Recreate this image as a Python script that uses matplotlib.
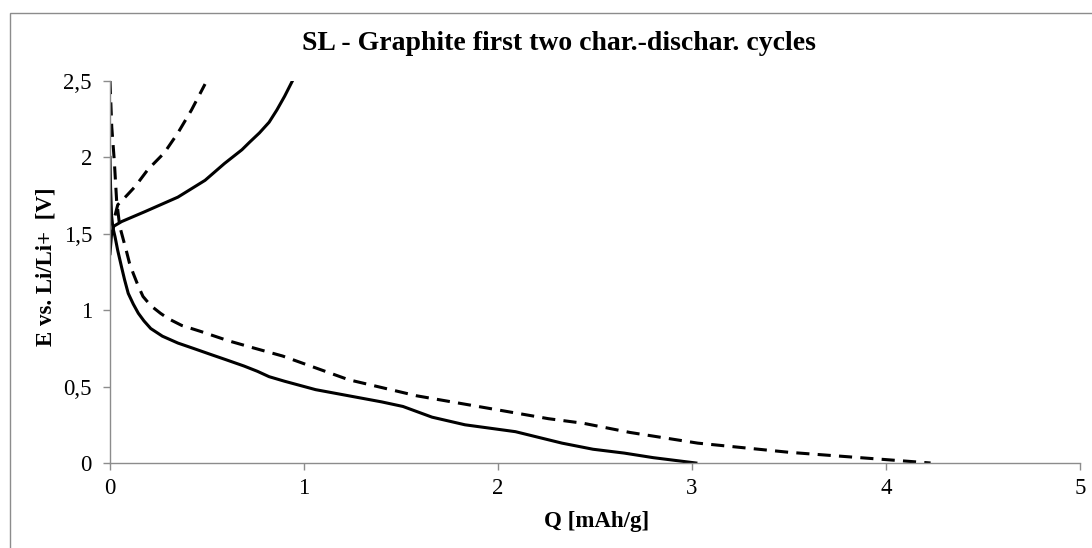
import matplotlib
matplotlib.use('Agg')
import matplotlib.pyplot as plt
from matplotlib.patches import Rectangle
from matplotlib.ticker import FuncFormatter

plt.rcParams['font.family'] = ['Liberation Serif', 'DejaVu Serif']

# cycle 1 (solid)
q_dis1 = [0, 0.003, 0.008, 0.015, 0.026, 0.04, 0.06, 0.075, 0.094, 0.12, 0.146, 0.175, 0.21,
          0.27, 0.35, 0.43, 0.52, 0.60, 0.69, 0.76, 0.82, 0.90, 1.06, 1.40, 1.51, 1.66, 1.83,
          2.09, 2.33, 2.49, 2.65, 2.80, 3.02]
e_dis1 = [2.0, 1.8, 1.62, 1.54, 1.48, 1.39, 1.28, 1.2, 1.11, 1.04, 0.98, 0.93, 0.88,
          0.83, 0.785, 0.75, 0.71, 0.675, 0.635, 0.60, 0.565, 0.535, 0.48, 0.40, 0.37, 0.30,
          0.25, 0.205, 0.13, 0.09, 0.065, 0.035, 0.0]
q_cha1 = [0, 0.008, 0.02, 0.06, 0.18, 0.35, 0.49, 0.59, 0.68, 0.72, 0.77, 0.82, 0.86, 0.90, 0.94]
e_cha1 = [1.37, 1.5, 1.55, 1.58, 1.645, 1.74, 1.85, 1.96, 2.05, 2.1, 2.16, 2.23, 2.31, 2.4, 2.5]

# cycle 2 (dashed)
q_dis2 = [0, 0.009, 0.022, 0.034, 0.05, 0.086, 0.10, 0.12, 0.145, 0.17, 0.21, 0.26, 0.30,
          0.37, 0.47, 0.61, 0.72, 0.89, 1.23, 1.58, 1.92, 2.26, 2.44, 2.68, 3.03, 3.50,
          3.97, 4.23]
e_dis2 = [2.5, 2.2, 1.98, 1.72, 1.55, 1.38, 1.31, 1.24, 1.16, 1.09, 1.03, 0.98, 0.945,
          0.90, 0.86, 0.80, 0.76, 0.70, 0.545, 0.44, 0.365, 0.29, 0.26, 0.20, 0.13, 0.07,
          0.025, 0.0]
q_cha2 = [0.026, 0.04, 0.086, 0.13, 0.195, 0.28, 0.35, 0.42, 0.49]
e_cha2 = [1.62, 1.69, 1.75, 1.81, 1.92, 2.03, 2.16, 2.31, 2.48]

fig = plt.figure(figsize=(10.92, 5.48), dpi=100)
ax = fig.add_axes([110 / 1092, 1 - 463 / 548, 970 / 1092, 382 / 548])

ax.plot(q_dis1, e_dis1, color='black', lw=2.2, solid_joinstyle='round')
ax.plot(q_cha1, e_cha1, color='black', lw=2.2, solid_joinstyle='round')
ax.plot(q_dis2, e_dis2, color='black', lw=2.2, dashes=(4.3, 2.7))
ax.plot(q_cha2, e_cha2, color='black', lw=2.2, dashes=(4.3, 2.7))

ax.set_xlim(0, 5)
ax.set_ylim(0, 2.5)
ax.set_xticks([0, 1, 2, 3, 4, 5])
ax.set_yticks([0, 0.5, 1, 1.5, 2, 2.5])
ax.yaxis.set_major_formatter(FuncFormatter(lambda v, p: ('%g' % v).replace('.', ',')))

for s in ['top', 'right']:
    ax.spines[s].set_visible(False)
for s in ['left', 'bottom']:
    ax.spines[s].set_color('#8c8c8c')
    ax.spines[s].set_linewidth(1.0)
ax.tick_params(colors='#8c8c8c', labelcolor='black', labelsize=16.5, length=5, width=1.0)
ax.tick_params(axis='y', pad=8)
ax.tick_params(axis='x', pad=6)

fig.text(559 / 1092, 1 - 44 / 548, 'SL - Graphite first two char.-dischar. cycles',
         ha='center', va='center', fontsize=20, fontweight='bold')
fig.text(597 / 1092, 1 - 521 / 548, 'Q [mAh/g]', ha='center', va='center',
         fontsize=16.5, fontweight='bold')
fig.text(46 / 1092, 1 - 267 / 548, 'E vs. Li/Li+  [V]', ha='center', va='center',
         rotation=90, fontsize=16.5, fontweight='bold')

# chart area frame
fig.patches.append(Rectangle((10 / 1092, -0.05), 1.2, 1 - 12.5 / 548 + 0.05,
                             transform=fig.transFigure, fill=False,
                             edgecolor='#8c8c8c', lw=1.0))

plt.savefig('out.png', dpi=100)
